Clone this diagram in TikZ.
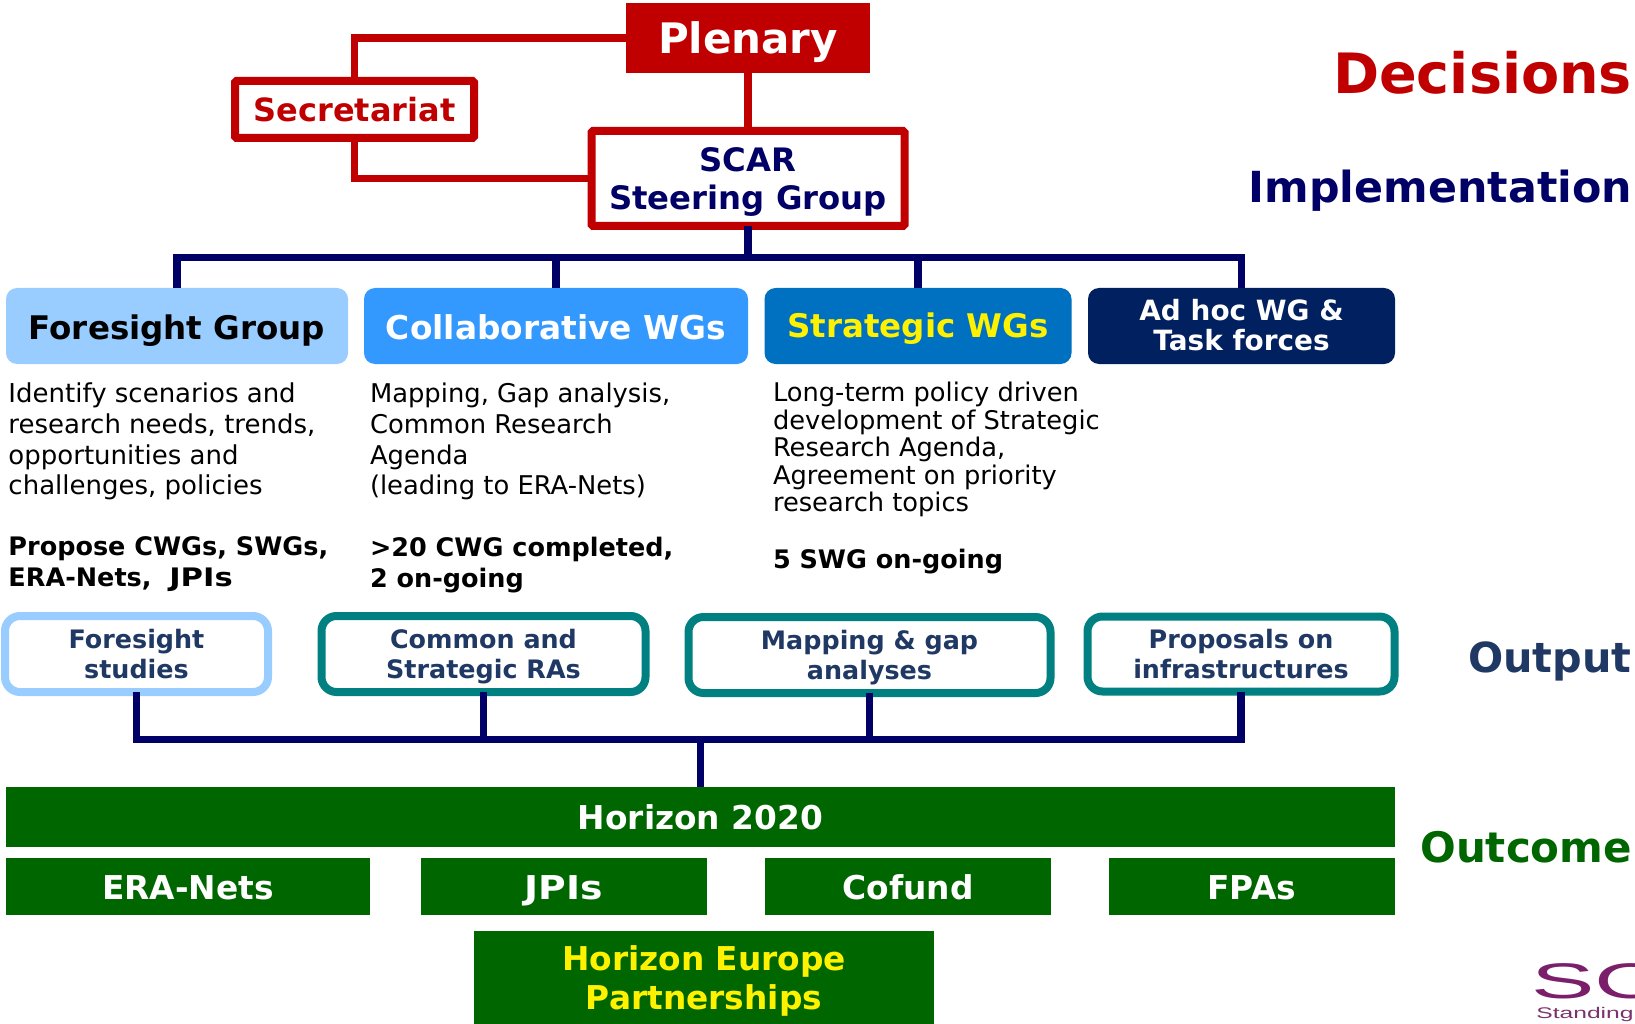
\documentclass[tikz,border=0pt]{standalone}
\usepackage{fontspec}
\setmainfont{DejaVu Sans}
\newfontfamily\logofont{Liberation Sans}
\definecolor{redc}{HTML}{C00000}
\definecolor{navyc}{HTML}{000066}
\definecolor{slatec}{HTML}{1F3864}
\definecolor{greenc}{HTML}{006600}
\definecolor{skyc}{HTML}{99CCFF}
\definecolor{bluec}{HTML}{3399FF}
\definecolor{stratc}{HTML}{0070C0}
\definecolor{adhocc}{HTML}{002060}
\definecolor{tealc}{HTML}{008080}
\definecolor{logoc}{HTML}{7B1F6B}
\newcommand\fsz[2]{\fontsize{#1pt}{#2pt}\selectfont}
\newcommand\capc[1]{\raisebox{0pt}[.729em][0pt]{#1}}
\tikzset{
  redline/.style={draw=redc,line width=7.5pt},
  navyline/.style={draw=navyc,line width=7.5pt},
  boxbase/.style={inner sep=0pt,outer sep=0pt,align=center},
  redbox/.style={boxbase,draw=redc,line width=8pt,fill=white,rounded corners=1.5pt,text=#1},
  topbox/.style={boxbase,rounded corners=11pt,minimum height=76pt},
  outbox/.style={boxbase,draw=#1,line width=8pt,fill=white,rounded corners=15pt,text=slatec,font=\bfseries\fsz{25.4}{30.5}},
  greenbox/.style={boxbase,fill=greenc,text=white,font=\bfseries\fsz{32.8}{39}},
  desc/.style={inner sep=0pt,outer sep=0pt,anchor=north west,align=left},
  bolddesc/.style={desc,font=\bfseries\fsz{25.5}{31}},
  sidelabel/.style={inner sep=0pt,outer sep=0pt,anchor=base east},
}
\begin{document}
\begin{tikzpicture}[x=1pt,y=-1pt]
\useasboundingbox[fill=white] (0,0) rectangle (1635,1024);
% top
\node[boxbase,fill=redc,text=white,minimum width=244pt,minimum height=70pt,font=\bfseries\fsz{42}{42}] (plenary) at (748,38) {\capc{Plenary}};
\node[redbox=redc,minimum width=239pt,minimum height=57pt,font=\bfseries\fsz{32}{32}] (sec) at (354.5,109.5) {\capc{Secretariat}};
\node[redbox=navyc,minimum width=313pt,minimum height=95pt,font=\bfseries\fsz{32.3}{38.5}] (scar) at (748,178.5) {\capc{SCAR}\\\capc{Steering Group}};
\draw[redline] (plenary.west) -| (sec.north);
\draw[redline] (sec.south) |- (scar.west);
\draw[redline] (plenary.south) -- (scar.north);
% working groups
\node[topbox,fill=skyc,text=black,minimum width=342pt,font=\bfseries\fsz{32.5}{33}] (fg) at (177,326) {\capc{\raisebox{-2pt}{Foresight Group}}};
\node[topbox,fill=bluec,text=white,minimum width=384pt,font=\bfseries\fsz{32.8}{33}] (cwg) at (556,326) {\capc{\raisebox{-2pt}{Collaborative WGs}}};
\node[topbox,fill=stratc,text=yellow,minimum width=307pt,font=\bfseries\fsz{32.5}{33}] (swg) at (918,326) {\capc{Strategic WGs}};
\node[topbox,fill=adhocc,text=white,minimum width=307pt,font=\bfseries\fsz{27.9}{30}] (adhoc) at (1241.5,326) {\capc{\raisebox{1pt}{Ad hoc WG \&}}\\\capc{\raisebox{1pt}{Task forces}}};
\coordinate (busa) at (748,257.5);
\draw[navyline] (scar.south) -- (busa);
\draw[navyline] (fg.north) |- (busa);
\draw[navyline] (cwg.north) |- (busa);
\draw[navyline] (swg.north) |- (busa);
\draw[navyline] (adhoc.north) |- (busa);
% descriptions
\node[desc,font=\fsz{26}{30.7}] (d1) at (8.5,383) {Identify scenarios and\\research needs, trends,\\opportunities and\\challenges, policies};
\node[desc,font=\fsz{25.8}{30.7}] (d2) at (370,383) {Mapping, Gap analysis,\\Common Research\\Agenda\\(leading to ERA-Nets)};
\node[desc,font=\fsz{25.7}{27.6}] (d3) at (773,382) {Long-term policy driven\\development of Strategic\\Research Agenda,\\Agreement on priority\\research topics};
\node[bolddesc] (b1) at (8.5,537) {Propose CWGs, SWGs,\\ERA-Nets,\ \ \scalebox{1.2}[1]{JPIs}};
\node[bolddesc] (b2) at (370,537) {>20 CWG completed,\\2 on-going};
\node[bolddesc] (b3) at (773,549) {5 SWG on-going};
% outputs
\node[outbox=skyc,minimum width=263pt,minimum height=76pt] (o1) at (136.5,654) {\capc{Foresight}\\\capc{studies}};
\node[outbox=tealc,minimum width=324pt,minimum height=76pt] (o2) at (483.5,654) {\capc{Common and}\\\capc{Strategic RAs}};
\node[outbox=tealc,minimum width=362pt,minimum height=76pt] (o3) at (869.5,655) {\capc{Mapping \& gap}\\\capc{analyses}};
\node[outbox=tealc,minimum width=307pt,minimum height=75pt] (o4) at (1241,654) {\capc{Proposals on}\\\capc{infrastructures}};
% outcomes
\node[greenbox,minimum width=1389pt,minimum height=60pt] (h2020) at (700.5,817) {\capc{\raisebox{-1pt}{Horizon 2020}}};
\node[greenbox,minimum width=364pt,minimum height=57pt] (era) at (188,886.5) {\capc{\raisebox{-1pt}{ERA-Nets}}};
\node[greenbox,minimum width=286pt,minimum height=57pt] (jpi) at (564,886.5) {\capc{\raisebox{-1pt}{\scalebox{1.15}[1]{JPIs}}}};
\node[greenbox,minimum width=286pt,minimum height=57pt] (cof) at (908,886.5) {\capc{\raisebox{-1pt}{Cofund}}};
\node[greenbox,minimum width=286.5pt,minimum height=57pt] (fpa) at (1251.75,886.5) {\capc{\raisebox{-1pt}{FPAs}}};
\node[greenbox,text=yellow,minimum width=460pt,minimum height=93pt] (he) at (704,977.5) {\capc{\raisebox{-1pt}{Horizon Europe}}\\\capc{\raisebox{-1pt}{Partnerships}}};
\coordinate (busb) at (700.5,739.5);
\draw[navyline] (o1.south) |- (busb);
\draw[navyline] (o2.south) |- (busb);
\draw[navyline] (o3.south) |- (busb);
\draw[navyline] (o4.south) |- (busb);
\draw[navyline] (busb) -- (h2020.north);
% side labels
\node[sidelabel,text=redc,font=\bfseries\fsz{55.6}{56}] (l1) at (1632,94) {Decisions};
\node[sidelabel,text=navyc,font=\bfseries\fsz{42.8}{43}] (l2) at (1632,203) {Implementation};
\node[sidelabel,text=slatec,font=\bfseries\fsz{41.4}{42}] (l3) at (1631.5,672) {Output};
\node[sidelabel,text=greenc,font=\bfseries\fsz{42}{42}] (l4) at (1632,862) {Outcome};
% logo, cut by the page edge
\begin{scope}
\clip (1500,950) rectangle (1635,1024);
\node[inner sep=0pt,anchor=base west,text=logoc,xscale=1.9,font=\logofont\fsz{50}{50}] (lg1) at (1531,998) {SC};
\node[inner sep=0pt,anchor=base west,text=logoc!80!gray,xscale=1.6,font=\logofont\fsz{15.4}{16}] (lg2) at (1536,1018.5) {Standing};
\end{scope}
\end{tikzpicture}
\end{document}
